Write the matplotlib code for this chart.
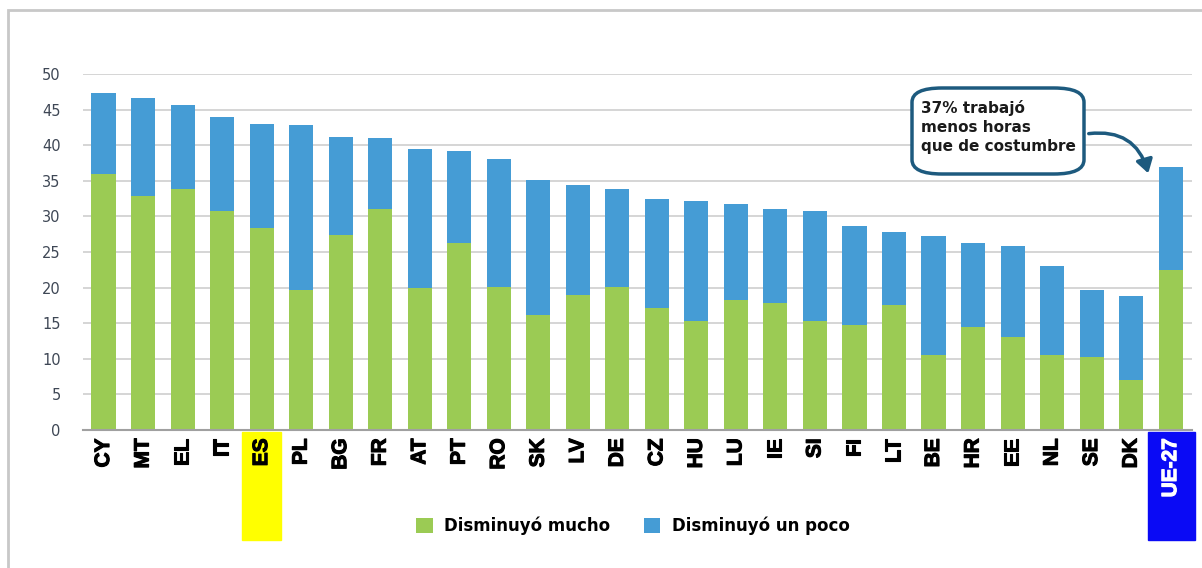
import matplotlib
matplotlib.use('Agg')
import matplotlib.pyplot as plt
import matplotlib.patheffects as pe
from matplotlib.patches import Rectangle, FancyBboxPatch, FancyArrowPatch
import numpy as np

# datos (lectura aproximada del gráfico)
paises = ['CY', 'MT', 'EL', 'IT', 'ES', 'PL', 'BG', 'FR', 'AT', 'PT', 'RO', 'SK', 'LV', 'DE',
          'CZ', 'HU', 'LU', 'IE', 'SI', 'FI', 'LT', 'BE', 'HR', 'EE', 'NL', 'SE', 'DK', 'UE-27']
mucho = [35.9, 32.9, 33.8, 30.7, 28.4, 19.7, 27.4, 31.0, 19.9, 26.3, 20.1, 16.1, 19.0, 20.1,
         17.1, 15.3, 18.3, 17.9, 15.3, 14.8, 17.5, 10.6, 14.4, 13.1, 10.6, 10.2, 7.0, 22.5]
total = [47.3, 46.6, 45.7, 43.9, 43.0, 42.8, 41.2, 41.0, 39.5, 39.2, 38.0, 35.1, 34.4, 33.8,
         32.5, 32.2, 31.8, 31.1, 30.7, 28.7, 27.8, 27.2, 26.2, 25.8, 23.1, 19.6, 18.8, 37.0]
un_poco = [t - m for t, m in zip(total, mucho)]
yticks = [0, 5, 10, 15, 20, 25, 30, 35, 40, 45, 50]

verde = '#9BCB54'
azul = '#459CD5'
W, H = 1202, 568

fig = plt.figure(figsize=(W / 100, H / 100), dpi=100)
ax = fig.add_axes([83 / W, 1 - 430 / H, (1192 - 83) / W, (430 - 74) / H])

x = np.arange(len(paises))
ax.bar(x, mucho, width=0.61, color=verde, label='Disminuyó mucho', zorder=3)
ax.bar(x, un_poco, width=0.61, bottom=mucho, color=azul, label='Disminuyó un poco', zorder=3)

ax.set_xlim(-0.52, len(paises) - 0.46)
ax.set_ylim(0, 50)
ax.set_yticks(yticks)
ax.yaxis.grid(True, color='#D2D2D2', linewidth=1.3, zorder=0)
ax.tick_params(axis='y', length=0, pad=16, labelsize=10.5, labelcolor='#3E4755')
ax.tick_params(axis='x', length=0, pad=6)
for s in ['left', 'right', 'top']:
    ax.spines[s].set_visible(False)
ax.spines['bottom'].set_color('#A0A0A0')
ax.spines['bottom'].set_linewidth(1.5)
ax.spines['bottom'].set_zorder(4)

ax.set_xticks(x)
ax.set_xticklabels(paises, rotation=90, va='top')
for lab in ax.get_xticklabels():
    lab.set_family(['Liberation Sans', 'DejaVu Sans'])
    lab.set_fontweight('bold')
    lab.set_fontsize(15)
    lab.set_path_effects([pe.withStroke(linewidth=0.8, foreground='black')])
ult = ax.get_xticklabels()[-1]
ult.set_color('white')
ult.set_path_effects([pe.withStroke(linewidth=0.8, foreground='white')])

# resaltados bajo las etiquetas
trans = matplotlib.transforms.blended_transform_factory(ax.transData, fig.transFigure)
y0, y1 = 1 - 540 / H, 1 - 432 / H
ax.add_patch(Rectangle((3.5, y0), 1.0, y1 - y0, transform=trans, color='#FFFF00',
                       clip_on=False, zorder=1))
ax.add_patch(Rectangle((26.42, y0), 1.19, y1 - y0, transform=trans, color='#0A0AF5',
                       clip_on=False, zorder=1))

# marco exterior
fig.patches.append(Rectangle((8 / W, -0.1), 1.2, 1 - 10 / H + 0.1, transform=fig.transFigure,
                             fill=False, edgecolor='#C8C8C8', linewidth=2))

# leyenda
fig.legend(loc='center', bbox_to_anchor=(633 / W, 1 - 526 / H), ncol=2, frameon=False,
           handlelength=1.0, handleheight=1.0, handletextpad=0.7, columnspacing=2.0,
           prop={'weight': 'bold', 'size': 12})

# nota
caja = FancyBboxPatch((912 / W, 1 - 174 / H), (1084 - 912) / W, (174 - 88) / H,
                      boxstyle='round,pad=0,rounding_size=0.025', transform=fig.transFigure,
                      facecolor='white', edgecolor='#1D5A7E', linewidth=2.5, zorder=5)
fig.patches.append(caja)
fig.text(921 / W, 1 - 127 / H, '37% trabajó\nmenos horas\nque de costumbre', fontsize=11,
         fontweight='bold', color='#1A1A1A', va='center', ha='left', linespacing=1.3, zorder=6)
flecha = FancyArrowPatch((1086 / W, 1 - 134 / H), (1149 / W, 1 - 176 / H),
                         transform=fig.transFigure, connectionstyle='arc3,rad=-0.45',
                         arrowstyle='-|>,head_length=8,head_width=5', color='#1D5A7E',
                         linewidth=2.5, zorder=6)
fig.patches.append(flecha)

fig.savefig('out.png', dpi=100)
